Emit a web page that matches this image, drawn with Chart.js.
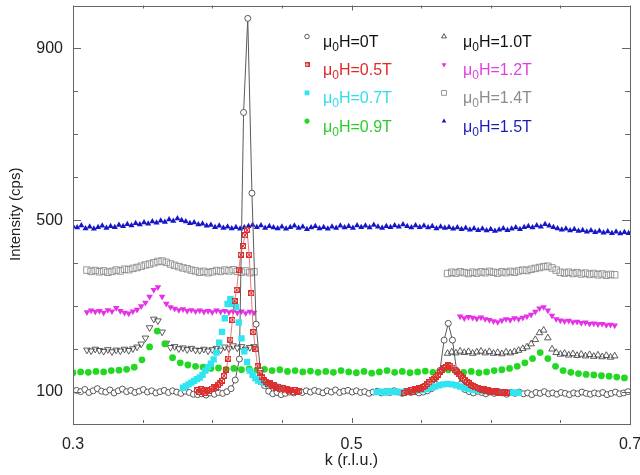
<!DOCTYPE html>
<html lang="en">
<head>
<meta charset="UTF-8">
<title>Intensity vs k</title>
<script src="https://cdn.jsdelivr.net/npm/chart.js"></script>
<style>
  body { margin: 0; background: #fff; }
  canvas { display: block; }
</style>
</head>
<body>
<canvas id="chartK" width="640" height="475"></canvas>
<script>
    // axis ranges and labelled ticks
    var kRange = [0.3, 0.7];
    var yRange = [28, 1000];
    var kLabels = [0.3, 0.5, 0.7];
    var yLabels = [100, 500, 900];

    // field values (legend), same order as the datasets
    var fields = ['0T', '0.5T', '0.7T', '0.9T', '1.0T', '1.2T', '1.4T', '1.5T'];

    // each scan: [first k, k step] + intensities (cps)
    var k_0T = [0.3025, 0.003];
    var I_0T = [104, 101, 106, 99, 103, 108, 102, 100, 105, 98,
        103, 107, 101, 104, 99, 102, 106, 100, 103, 98,
        101, 104, 99, 103, 100, 97, 102, 99, 95, 94,
        96, 93, 98, 95, 99, 97, 101,
        108, 128, 177, 751, 970, 563, 258, 150, 115, 102,
        96, 99, 94, 97, 100, 98, 102, 99, 103, 100,
        104, 101, 98, 103, 100, 105, 99, 102, 104, 100,
        103, 99, 101, 97, 100, 102, 98, 101, 99, 103,
        100, 97, 101, 99, 102, 98, 100, 103, 108, 118,
        150, 221, 260, 221, 150, 118,
        106, 101, 98, 102, 99, 96, 100, 97, 101, 98,
        95, 99, 97, 100, 96, 98, 94, 99, 97, 101,
        96, 98, 95, 99, 97, 94, 98, 96, 100, 97,
        95, 98, 96, 99, 94, 97, 100, 96, 98, 101];

    var k_05T_a = [0.389, 0.0015];
    var I_05T_a = [104, 100, 106, 102, 99, 105, 103, 108, 111, 109,
        116, 120, 126, 138, 152, 178, 222, 268, 312, 338,
        385, 420, 440, 465, 477, 420, 330, 240, 200, 160,
        145, 135, 128, 124, 118, 121, 114, 116, 110, 112,
        106, 109, 104, 107, 102, 105, 100, 104, 101, 103];
    var k_05T_b = [0.538, 0.0015];
    var I_05T_b = [98, 102, 100, 104, 101, 106, 104, 109, 107, 112,
        115, 119, 123, 127, 131, 136, 140, 146, 151, 156,
        159, 163, 161, 157, 152, 147, 142, 137, 132, 128,
        124, 120, 117, 114, 111, 109, 107, 105, 106, 103,
        104, 101, 103, 100, 102, 99, 101, 98, 100, 99];

    var k_07T_a = [0.379, 0.002];
    var I_07T_a = [110, 114, 118, 122, 126, 130, 134, 140, 150, 158,
        166, 176, 192, 215, 240, 272, 305, 316, 305, 298,
        262, 225, 195, 170, 150, 140, 132, 127, 124, 122,
        120, 117, 115, 114, 112, 110];
    var k_07T_b = [0.518, 0.003];
    var I_07T_b = [100, 101, 99, 102, 100, 101, 100, 102, 101, 103,
        104, 105, 107, 110, 113, 116, 118, 119, 118, 116,
        113, 110, 107, 105, 104, 103, 102, 101, 100, 101,
        99, 100, 98, 99, 98];

    var k_09T = [0.3, 0.0055];
    var I_09T = [145, 147, 146, 148, 147, 150, 151, 153, 158, 175,
        205, 242, 212, 180, 168, 163, 160, 158, 155, 156,
        153, 155, 152, 154, 151, 153, 150, 152, 148, 150,
        147, 149, 146, 148, 146, 150, 147, 145, 148, 144,
        147, 150, 146, 148, 145, 147, 149, 146, 150, 152,
        149, 146, 148, 145, 147, 150, 152, 155, 160, 168,
        178, 192, 178, 160, 150, 146, 143, 141, 140, 138,
        137, 135, 133];

    var k_10T_a = [0.310, 0.003];
    var I_10T_a = [198, 196, 200, 197, 195, 199, 194, 198, 196, 200,
        197, 201, 205, 212, 226, 250, 270, 266, 240, 214,
        204, 206, 201, 203, 199, 202, 198, 197, 200, 196,
        199, 202, 198, 205, 201, 208, 203, 206, 200, 204, 206];
    var k_10T_b = [0.569, 0.003];
    var I_10T_b = [190, 193, 191, 195, 192, 194, 190, 193, 195, 191,
        194, 190, 192, 189, 193, 191, 194, 197, 201, 205,
        212, 222, 238, 244, 226, 200, 192, 188, 190, 186,
        189, 185, 188, 184, 187, 183, 186, 182, 185, 181, 184];

    var k_12T_a = [0.310, 0.003];
    var I_12T_a = [286, 290, 287, 289, 285, 291, 288, 296, 289, 285,
        283, 288, 292, 300, 308, 322, 338, 344, 322, 306,
        298, 294, 291, 293, 289, 291, 288, 290, 287, 289,
        286, 290, 287, 289, 286, 288, 285, 288, 284, 287, 285];
    var k_12T_b = [0.578, 0.003];
    var I_12T_b = [276, 272, 275, 273, 271, 274, 270, 268, 265, 263,
        267, 270, 268, 272, 270, 273, 276, 280, 287, 295,
        298, 290, 278, 270, 267, 265, 266, 263, 264, 261,
        262, 259, 260, 258, 259, 256, 257, 255];

    var k_14T_a = [0.310, 0.003];
    var I_14T_a = [384, 381, 383, 380, 382, 379, 381, 384, 382, 386,
        385, 388, 390, 393, 396, 398, 401, 404, 405, 402,
        398, 395, 392, 389, 387, 384, 382, 379, 381, 378,
        380, 383, 381, 384, 382, 385, 381, 379, 382, 378, 380];
    var k_14T_b = [0.569, 0.003];
    var I_14T_b = [376, 379, 377, 380, 378, 376, 379, 377, 380, 378,
        381, 379, 377, 380, 378, 381, 379, 382, 384, 383,
        386, 388, 390, 392, 393, 389, 384, 379, 377, 379,
        376, 378, 375, 377, 374, 376, 373, 375, 372, 374, 373];

    var k_15T = [0.300, 0.003];
    var I_15T = [486, 483, 488, 481, 485, 480, 484, 487, 482, 486,
        484, 489, 486, 491, 488, 493, 490, 495, 492, 497,
        494, 499, 496, 502, 498, 504, 500, 497, 493, 495,
        490, 492, 487, 489, 484, 487, 482, 485, 481, 484,
        480, 483, 486, 489, 484, 488, 482, 486, 483, 481,
        485, 480, 484, 487, 482, 485, 479, 483, 486, 481,
        484, 480, 485, 482, 487, 483, 486, 482, 488, 484,
        487, 483, 489, 485, 482, 486, 484, 488, 485, 490,
        486, 483, 488, 484, 487, 483, 486, 481, 485, 482,
        484, 480, 483, 479, 482, 478, 481, 477, 480, 476,
        479, 475, 478, 481, 477, 480, 483, 479, 484, 486,
        483, 488, 485, 491, 487, 484, 481, 478, 480, 476,
        479, 475, 477, 473, 476, 472, 475, 471, 474, 470,
        473, 469, 472, 470];

    function scan(seg, vals) {
        return vals.map(function (v, i) {
            return { x: +(seg[0] + i * seg[1]).toFixed(4), y: v };
        });
    }
    // two scans joined with a gap so no line runs between them
    function join(a, b) {
        return a.concat([{ x: (a[a.length - 1].x + b[0].x) / 2, y: null }], b);
    }

    // red square-with-bowtie marker
    function bowtie(n) {
        var c = document.createElement('canvas');
        c.width = n; c.height = n;
        var g = c.getContext('2d');
        var e = n - 0.5;
        g.strokeStyle = '#dc3030';
        g.lineWidth = 1;
        g.strokeRect(0.5, 0.5, n - 1, n - 1);
        g.beginPath();
        g.moveTo(0.5, 0.5); g.lineTo(e, e); g.lineTo(e, 0.5); g.lineTo(0.5, e); g.closePath();
        g.stroke();
        return c;
    }

    var FONT = '"Liberation Sans", Arial, sans-serif';

    var datasets = [
        { data: scan(k_0T, I_0T), showLine: true, borderColor: '#5a5a5a', borderWidth: 1,
          pointStyle: 'circle', pointRadius: 3, pointBorderColor: '#333', pointBackgroundColor: '#fff',
          pointBorderWidth: 0.8, textColor: '#111', order: 3 },
        { data: join(scan(k_05T_a, I_05T_a), scan(k_05T_b, I_05T_b)), showLine: true,
          borderColor: '#e05a5a', borderWidth: 0.8, pointStyle: bowtie(6), legendStyle: bowtie(5), pointRadius: 3,
          pointBorderColor: '#dc3030', pointBackgroundColor: '#dc3030', textColor: '#e02828', order: 1 },
        { data: scan(k_07T_a, I_07T_a).concat(scan(k_07T_b, I_07T_b)), showLine: false,
          pointStyle: 'rect', pointRadius: 4.5, pointBorderWidth: 0,
          pointBorderColor: '#30e4f0', pointBackgroundColor: '#30e4f0', textColor: '#30dcea', order: 2 },
        { data: scan(k_09T, I_09T), showLine: false, pointStyle: 'circle', pointRadius: 3.4,
          pointBorderWidth: 0, pointBorderColor: '#22d822', pointBackgroundColor: '#22d822',
          textColor: '#2ccc2c', order: 4 },
        { data: scan(k_10T_a, I_10T_a).concat(scan(k_10T_b, I_10T_b)), showLine: false,
          pointStyle: 'triangle', pointRadius: 3.8, pointBorderWidth: 0.8,
          pointRotation: function (c) { return c.raw && c.raw.x < 0.5 ? 180 : 0; },
          pointBorderColor: '#333', pointBackgroundColor: 'rgba(255,255,255,0)', textColor: '#111', order: 5 },
        { data: scan(k_12T_a, I_12T_a).concat(scan(k_12T_b, I_12T_b)), showLine: false,
          pointStyle: 'triangle', pointRotation: 180, pointRadius: 3.8, pointBorderWidth: 0,
          pointBorderColor: '#e632e6', pointBackgroundColor: '#e632e6', textColor: '#e040e0', order: 6 },
        { data: scan(k_14T_a, I_14T_a).concat(scan(k_14T_b, I_14T_b)), showLine: false,
          pointStyle: 'rect', pointRadius: 4.6, pointBorderWidth: 0.9,
          pointBorderColor: '#8c8c8c', pointBackgroundColor: 'rgba(255,255,255,0)', textColor: '#8c8c8c', order: 7 },
        { data: scan(k_15T, I_15T), showLine: false, pointStyle: 'triangle', pointRadius: 3.5,
          pointBorderWidth: 0, pointBorderColor: '#1616c8', pointBackgroundColor: '#1616c8',
          textColor: '#1c1cbc', order: 8 }
    ];
    datasets.forEach(function (ds, i) {
        ds.label = 'μ0H=' + fields[i];
        ds.spanGaps = false;
        ds.pointHoverRadius = ds.pointRadius;
    });

    // frame and inward tick marks on all four sides
    var framePlugin = {
        id: 'frame',
        afterDraw: function (chart) {
            var ctx = chart.ctx, a = chart.chartArea;
            var sx = chart.scales.x, sy = chart.scales.y;
            ctx.save();
            ctx.strokeStyle = '#666';
            ctx.lineWidth = 1;
            ctx.strokeRect(Math.round(a.left) + 0.5, Math.round(a.top) + 0.5,
                Math.round(a.right - a.left), Math.round(a.bottom - a.top));
            ctx.beginPath();
            sx.ticks.forEach(function (t) {
                var px = Math.round(sx.getPixelForValue(t.value)) + 0.5;
                var len = t.label ? 5 : 3;
                ctx.moveTo(px, a.bottom); ctx.lineTo(px, a.bottom - len);
                ctx.moveTo(px, a.top); ctx.lineTo(px, a.top + len);
            });
            sy.ticks.forEach(function (t) {
                var py = Math.round(sy.getPixelForValue(t.value)) + 0.5;
                var len = t.label ? 8 : 5;
                ctx.moveTo(a.left, py); ctx.lineTo(a.left + len, py);
                ctx.moveTo(a.right, py); ctx.lineTo(a.right - len, py);
            });
            ctx.stroke();
            ctx.restore();
        }
    };

    // two column legend, with subscript 0 in mu0H
    var legendPlugin = {
        id: 'fieldLegend',
        afterDraw: function (chart) {
            var ctx = chart.ctx;
            var drawPoint = Chart.helpers && Chart.helpers.drawPoint;
            chart.data.datasets.forEach(function (ds, i) {
                var col = Math.floor(i / 4), row = i % 4;
                var mx = col ? 444 : 307;
                var tx = col ? 463 : 323;
                var base = 47 + row * 28.2;
                var my = base - 10.5;
                ctx.save();
                if (drawPoint) {
                    ctx.fillStyle = ds.pointBackgroundColor;
                    ctx.strokeStyle = ds.pointBorderColor;
                    ctx.lineWidth = ds.pointBorderWidth || 0;
                    var rot = typeof ds.pointRotation === 'number' ? ds.pointRotation : 0;
                    drawPoint(ctx, { pointStyle: ds.legendStyle || ds.pointStyle, radius: ds.pointRadius * 0.75,
                        rotation: rot, borderWidth: ds.pointBorderWidth || 0 }, mx, my);
                }
                ctx.fillStyle = ds.textColor;
                ctx.textBaseline = 'alphabetic';
                ctx.textAlign = 'left';
                ctx.font = '16px ' + FONT;
                ctx.fillText('μ', tx, base);
                var x = tx + ctx.measureText('μ').width;
                ctx.font = '12px ' + FONT;
                ctx.fillText('0', x, base + 4);
                x += ctx.measureText('0').width;
                ctx.font = '16px ' + FONT;
                ctx.fillText('H=' + fields[i], x, base);
                ctx.restore();
            });
        }
    };

    new Chart(document.getElementById('chartK'), {
        type: 'line',
        data: { datasets: datasets },
        plugins: [framePlugin, legendPlugin],
        options: {
            responsive: false,
            animation: false,
            events: [],
            layout: { padding: { left: 0, right: 10, top: 5, bottom: 0 } },
            plugins: { legend: { display: false }, tooltip: { enabled: false } },
            scales: {
                x: {
                    type: 'linear',
                    min: kRange[0], max: kRange[1],
                    grid: { display: false, drawTicks: true, tickLength: 8 },
                    border: { display: false },
                    ticks: {
                        stepSize: 0.05, autoSkip: false, maxRotation: 0, padding: 4,
                        color: '#222', font: { family: FONT, size: 16 },
                        callback: function (v) {
                            return kLabels.some(function (k) { return Math.abs(k - v) < 1e-6; }) ? v.toFixed(1) : '';
                        }
                    },
                    title: { display: true, text: 'k (r.l.u.)', color: '#222',
                        font: { family: FONT, size: 16 }, padding: { top: 2, bottom: 5 } },
                    afterFit: function (s) { s.height = 52; s.paddingLeft = 0; s.paddingRight = 0; }
                },
                y: {
                    min: yRange[0], max: yRange[1],
                    grid: { display: false, drawTicks: true, tickLength: 7 },
                    border: { display: false },
                    ticks: {
                        stepSize: 100, autoSkip: false, padding: 3,
                        color: '#222', font: { family: FONT, size: 16 },
                        callback: function (v) { return yLabels.indexOf(v) >= 0 ? String(v) : ''; }
                    },
                    afterBuildTicks: function (s) {
                        s.ticks = s.ticks.filter(function (t) {
                            return t.value % 100 === 0 && t.value >= 100 && t.value <= 900;
                        });
                    },
                    title: { display: true, text: 'Intensity (cps)', color: '#222',
                        font: { family: FONT, size: 15 }, padding: { top: 7, bottom: 0 } },
                    afterFit: function (s) { s.width = 73; s.paddingTop = 0; s.paddingBottom = 0; }
                }
            }
        }
    });
</script>
</body>
</html>
